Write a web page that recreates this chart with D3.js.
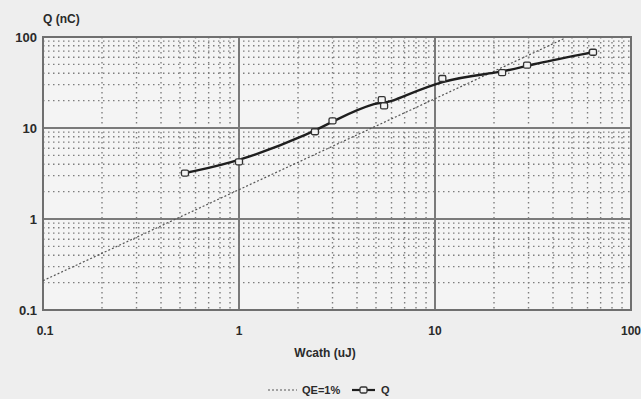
<!DOCTYPE html>
<html>
<head>
<meta charset="utf-8">
<script src="https://cdn.jsdelivr.net/npm/d3@7"></script>
<style>
  body { margin: 0; background: #eeeeee; }
  svg { display: block; }
  text { font-family: "Liberation Sans", Arial, sans-serif; fill: #2a2a2a; }
</style>
</head>
<body>
<div id="wrapper"></div>
<script>
// measured charge vs cathode energy
const qEnergy = [0.53, 1.0, 2.44, 3.0, 5.35, 5.5, 10.9, 22, 29.5, 64];
const qCharge = [3.2, 4.25, 9.1, 12, 20.5, 17.5, 35, 40.5, 49, 68];

// reference line for QE = 1%
const qeEnergy = [0.1, 1, 10, 46];
const qeCharge = [0.21, 2.1, 21, 97];

const xTicks = [0.1, 1, 10, 100];
const yTicks = [0.1, 1, 10, 100];
const xTickLabels = ["0.1", "1", "10", "100"];
const yTickLabels = ["0.1", "1", "10", "100"];

function drawChart() {
  let dimensions = {
    width: 641,
    height: 399,
    margin: { top: 37, right: 10, bottom: 89, left: 43 },
  };
  dimensions.boundedWidth = dimensions.width - dimensions.margin.left - dimensions.margin.right;
  dimensions.boundedHeight = dimensions.height - dimensions.margin.top - dimensions.margin.bottom;

  const wrapper = d3.select("#wrapper")
    .append("svg")
    .attr("width", dimensions.width)
    .attr("height", dimensions.height);

  const bounds = wrapper.append("g")
    .attr("transform", `translate(${dimensions.margin.left},${dimensions.margin.top})`);

  const xScale = d3.scaleLog()
    .domain([0.1, 100])
    .range([0, dimensions.boundedWidth]);
  const yScale = d3.scaleLog()
    .domain([0.1, 100])
    .range([dimensions.boundedHeight, 0]);

  bounds.append("rect")
    .attr("width", dimensions.boundedWidth)
    .attr("height", dimensions.boundedHeight)
    .attr("fill", "#f4f4f4");

  // minor grid (dotted)
  const minor = [];
  [0.1, 1, 10].forEach(d => { for (let k = 2; k <= 9; k++) minor.push(d * k); });

  bounds.append("g").selectAll("line")
    .data(minor)
    .enter().append("line")
    .attr("x1", d => xScale(d))
    .attr("x2", d => xScale(d))
    .attr("y1", 0)
    .attr("y2", dimensions.boundedHeight)
    .attr("stroke", "#7e7e7e")
    .attr("stroke-width", 1.4)
    .attr("stroke-dasharray", "1.5 3.5");

  bounds.append("g").selectAll("line")
    .data(minor)
    .enter().append("line")
    .attr("x1", 0)
    .attr("x2", dimensions.boundedWidth)
    .attr("y1", d => yScale(d))
    .attr("y2", d => yScale(d))
    .attr("stroke", "#7e7e7e")
    .attr("stroke-width", 1.4)
    .attr("stroke-dasharray", "1.5 3.5");

  // decade grid
  bounds.append("g").selectAll("line")
    .data([1, 10])
    .enter().append("line")
    .attr("x1", d => xScale(d))
    .attr("x2", d => xScale(d))
    .attr("y1", 0)
    .attr("y2", dimensions.boundedHeight)
    .attr("stroke", "#7a7a7a")
    .attr("stroke-width", 2);

  bounds.append("g").selectAll("line")
    .data([1, 10])
    .enter().append("line")
    .attr("x1", 0)
    .attr("x2", dimensions.boundedWidth)
    .attr("y1", d => yScale(d))
    .attr("y2", d => yScale(d))
    .attr("stroke", "#7a7a7a")
    .attr("stroke-width", 2.2);

  // frame
  bounds.append("rect")
    .attr("width", dimensions.boundedWidth)
    .attr("height", dimensions.boundedHeight)
    .attr("fill", "none")
    .attr("stroke", "#6f6f6f")
    .attr("stroke-width", 2);

  // QE = 1% line
  const qeData = qeEnergy.map((d, i) => ({ x: d, y: qeCharge[i] }));
  const lineGen = d3.line()
    .x(d => xScale(d.x))
    .y(d => yScale(d.y));
  bounds.append("path")
    .datum(qeData)
    .attr("d", lineGen)
    .attr("fill", "none")
    .attr("stroke", "#555")
    .attr("stroke-width", 1.2)
    .attr("stroke-dasharray", "2 2");

  // Q curve
  const qData = qEnergy.map((d, i) => ({ x: d, y: qCharge[i] }));
  const curveGen = d3.line()
    .x(d => xScale(d.x))
    .y(d => yScale(d.y))
    .curve(d3.curveBasis);
  bounds.append("path")
    .datum(qData)
    .attr("d", curveGen)
    .attr("fill", "none")
    .attr("stroke", "#1e1e1e")
    .attr("stroke-width", 2.4);

  bounds.append("g").selectAll("rect")
    .data(qData)
    .enter().append("rect")
    .attr("x", d => xScale(d.x) - 3.5)
    .attr("y", d => yScale(d.y) - 3)
    .attr("width", 7)
    .attr("height", 6)
    .attr("rx", 1.5)
    .attr("fill", "#f4f4f4")
    .attr("stroke", "#333")
    .attr("stroke-width", 1.3);

  // tick labels
  bounds.append("g").selectAll("text")
    .data(xTicks)
    .enter().append("text")
    .attr("x", d => xScale(d) + (d === 0.1 ? 2 : 0))
    .attr("y", dimensions.boundedHeight + 25)
    .attr("text-anchor", "middle")
    .style("font-size", "12px")
    .style("font-weight", "bold")
    .text((d, i) => xTickLabels[i]);

  bounds.append("g").selectAll("text")
    .data(yTicks)
    .enter().append("text")
    .attr("x", -6)
    .attr("y", d => yScale(d) + 5)
    .attr("text-anchor", "end")
    .style("font-size", "13px")
    .style("font-weight", "bold")
    .text((d, i) => yTickLabels[i]);

  // axis titles
  bounds.append("text")
    .attr("x", 0)
    .attr("y", -14)
    .style("font-size", "12px")
    .style("font-weight", "bold")
    .text("Q (nC)");

  bounds.append("text")
    .attr("x", 282)
    .attr("y", dimensions.boundedHeight + 47)
    .attr("text-anchor", "middle")
    .style("font-size", "12px")
    .style("font-weight", "bold")
    .text("Wcath (uJ)");

  // legend
  const legend = wrapper.append("g")
    .attr("transform", "translate(268, 390)");
  legend.append("line")
    .attr("x1", 0).attr("x2", 29)
    .attr("stroke", "#555")
    .attr("stroke-width", 1.2)
    .attr("stroke-dasharray", "2 2");
  legend.append("text")
    .attr("x", 34).attr("y", 4)
    .style("font-size", "11px")
    .style("font-weight", "bold")
    .text("QE=1%");
  legend.append("line")
    .attr("x1", 84).attr("x2", 107)
    .attr("stroke", "#1e1e1e")
    .attr("stroke-width", 2.2);
  legend.append("rect")
    .attr("x", 92).attr("y", -3)
    .attr("width", 7).attr("height", 6)
    .attr("rx", 1.5)
    .attr("fill", "#eeeeee")
    .attr("stroke", "#333")
    .attr("stroke-width", 1.3);
  legend.append("text")
    .attr("x", 113).attr("y", 4)
    .style("font-size", "11px")
    .style("font-weight", "bold")
    .text("Q");
}
drawChart();
</script>
</body>
</html>
